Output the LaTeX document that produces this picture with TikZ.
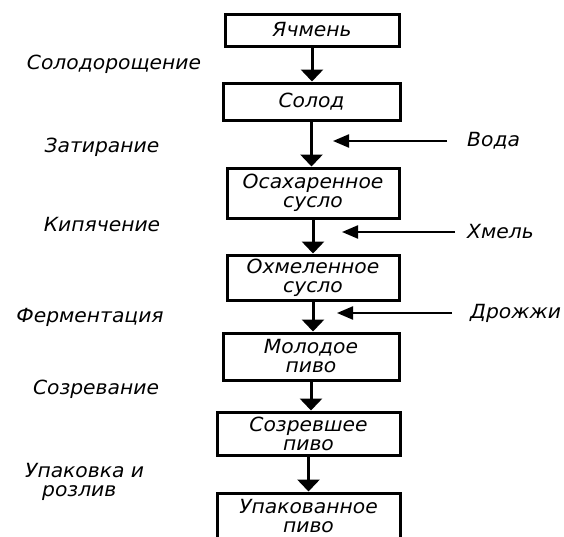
\documentclass[tikz,border=0pt]{standalone}
\usepackage{fontspec}
\newfontfamily\gost{DejaVu Sans}[FakeStretch=1.04]
\usetikzlibrary{arrows.meta}
\newcommand\gostfont{\gost\itshape\fontsize{19.5}{19}\selectfont}
\begin{document}
\begin{tikzpicture}[x=1pt,y=-1pt,
  box/.style={draw,line width=3pt,inner sep=0pt,align=center,font=\gostfont},
  lbl/.style={font=\gostfont,inner sep=0pt},
  flow/.style={line width=3pt,-{Triangle[length=12pt,width=22pt]}},
  feed/.style={line width=2.2pt,-{Triangle[length=16pt,width=13pt]}}]
\useasboundingbox (0,0) rectangle (564,536);
\clip (0,0) rectangle (564,536);
\fill[white] (0,0) rectangle (564,536);
% boxes
\node[box,minimum width=174pt,minimum height=32pt] (b1) at (312,30) {Ячмень};
\node[box,minimum width=177pt,minimum height=37pt] (b2) at (311.5,101.5) {Солод};
\node[box,minimum width=172pt,minimum height=50pt] (b3) at (313,193) {Осахаренное\\сусло};
\node[box,minimum width=172pt,minimum height=45pt] (b4) at (313,277.5) {Охмеленное\\сусло};
\node[box,minimum width=176pt,minimum height=47pt] (b5) at (311,356.5) {Молодое\\пиво};
\node[box,minimum width=183pt,minimum height=43pt] (b6) at (308.5,433.5) {Созревшее\\пиво};
\node[box,minimum width=183pt,minimum height=46pt] (b7) at (308.5,516) {Упакованное\\пиво};
% flow arrows
\draw[flow] (b1.south) -- (b1.south |- b2.north);
\draw[flow] (b2.south) -- (b2.south |- b3.north);
\draw[flow] (b3.south) -- (b3.south |- b4.north);
\draw[flow] (b4.south) -- (b4.south |- b5.north);
\draw[flow] (b5.south) -- (b5.south |- b6.north);
\draw[flow] (b6.south) -- (b6.south |- b7.north);
% process labels
\node[lbl] (p1) at (114,64) {Солодорощение};
\node[lbl] (p2) at (102,147) {Затирание};
\node[lbl] (p3) at (102,225) {Кипячение};
\node[lbl] (p4) at (90,317) {Ферментация};
\node[lbl] (p5) at (96,389) {Созревание};
\node[lbl,anchor=west,align=left] (p6) at (25,482) {Упаковка и\\\hspace*{17pt}розлив};
% inputs
\node[lbl,anchor=west] (i1) at (467,141) {Вода};
\node[lbl,anchor=west] (i2) at (467,232) {Хмель};
\node[lbl,anchor=west] (i3) at (470,313) {Дрожжи};
\coordinate (t1) at (333,141);
\coordinate (t2) at (342,232);
\coordinate (t3) at (337,313);
\draw[feed] ([xshift=-20pt]i1.west) -- (t1);
\draw[feed] ([xshift=-12pt]i2.west) -- (t2);
\draw[feed] ([xshift=-18pt]i3.west) -- (t3);
\end{tikzpicture}
\end{document}
